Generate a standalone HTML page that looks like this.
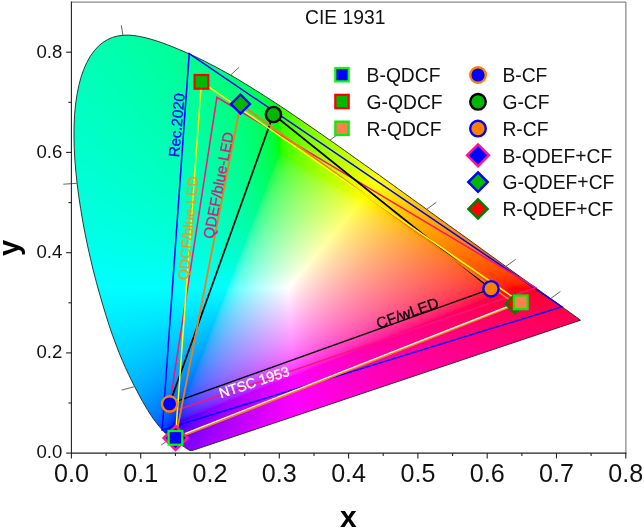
<!DOCTYPE html>
<html><head><meta charset="utf-8"><title>CIE 1931</title>
<style>
html,body{margin:0;padding:0;background:#fff}
#w{position:relative;width:644px;height:529px;overflow:hidden;background:#fff}
#f{position:absolute;left:0;top:0;width:644px;height:529px;clip-path:path("M192.1 450.6 L190.0 450.5 L188.2 449.5 L186.4 448.4 L184.5 447.1 L182.5 445.8 L180.6 444.7 L178.5 443.3 L176.0 441.7 L174.2 440.5 L172.2 439.0 L170.1 437.4 L167.8 435.5 L165.3 433.1 L163.9 431.7 L162.4 430.1 L160.8 428.3 L159.2 426.3 L157.4 424.1 L155.6 421.8 L153.6 419.1 L151.6 416.3 L149.5 413.1 L147.4 409.6 L145.1 405.8 L142.7 401.6 L140.1 397.0 L137.5 392.0 L134.7 386.6 L131.7 380.8 L128.6 374.4 L125.5 367.7 L122.3 360.4 L119.0 352.5 L115.8 344.2 L112.5 335.2 L109.3 325.8 L106.1 315.8 L102.9 305.3 L99.7 294.2 L96.5 282.8 L93.4 270.9 L90.5 258.7 L87.7 246.3 L85.1 233.7 L82.7 221.1 L80.6 208.4 L78.7 195.8 L77.1 183.3 L75.8 171.1 L74.8 159.1 L74.2 147.4 L74.0 136.0 L74.1 125.0 L74.6 114.4 L75.6 104.2 L77.0 94.6 L78.8 85.6 L81.0 77.2 L83.7 69.5 L86.8 62.5 L90.3 56.2 L94.2 50.8 L98.4 46.2 L102.8 42.5 L107.5 39.6 L112.5 37.4 L117.6 36.0 L122.9 35.3 L128.3 35.1 L133.7 35.5 L139.3 36.4 L144.9 37.6 L150.5 39.1 L156.2 40.8 L161.9 42.7 L167.5 44.8 L173.1 47.0 L178.6 49.3 L184.0 51.6 L189.4 54.0 L194.7 56.4 L199.9 58.9 L205.1 61.4 L210.2 64.1 L215.3 66.7 L220.4 69.5 L225.5 72.3 L230.5 75.1 L235.6 78.0 L240.6 81.0 L245.6 84.0 L250.6 87.1 L255.6 90.2 L260.6 93.3 L265.5 96.5 L270.5 99.7 L275.5 102.9 L280.4 106.2 L285.4 109.5 L290.3 112.8 L295.2 116.2 L300.2 119.5 L305.1 122.9 L310.1 126.3 L315.1 129.8 L320.0 133.2 L325.0 136.7 L330.0 140.2 L334.9 143.6 L339.8 147.1 L344.8 150.6 L349.7 154.1 L354.6 157.7 L359.6 161.2 L364.5 164.7 L369.4 168.2 L374.3 171.7 L379.2 175.1 L384.0 178.6 L388.9 182.1 L393.7 185.6 L398.4 189.0 L403.2 192.4 L407.9 195.8 L412.6 199.2 L417.3 202.6 L422.0 205.9 L426.6 209.3 L431.1 212.6 L435.7 215.8 L440.1 219.1 L444.6 222.2 L448.9 225.4 L453.3 228.5 L457.6 231.6 L461.8 234.6 L465.9 237.6 L470.0 240.5 L474.0 243.4 L478.0 246.3 L481.8 249.1 L485.6 251.8 L489.2 254.4 L492.7 257.0 L496.2 259.4 L499.5 261.8 L502.7 264.2 L505.9 266.4 L509.0 268.7 L512.0 270.9 L515.0 273.0 L517.8 275.0 L520.6 277.0 L523.2 278.9 L525.8 280.7 L528.2 282.5 L530.6 284.1 L532.8 285.7 L535.0 287.3 L537.0 288.8 L539.0 290.2 L540.9 291.6 L542.7 292.9 L544.4 294.2 L546.1 295.3 L549.2 297.6 L552.0 299.6 L554.6 301.4 L556.9 303.1 L559.1 304.7 L561.0 306.1 L562.9 307.4 L564.6 308.7 L567.0 310.4 L569.0 311.9 L570.9 313.2 L572.9 314.6 L574.9 316.1 L576.6 317.3 L578.3 318.5 L580.0 319.8 L580.5 320.2Z")}
svg{position:absolute;left:0;top:0;will-change:transform}
text{font-family:"Liberation Sans",Arial,sans-serif}
.s{position:absolute;left:0;top:0;width:644px;height:529px}
</style></head><body>
<div id="w">
<div id="f">
<div class="s" style="background:conic-gradient(from 0deg at 288.1px 288.2px, rgb(76,255,0) 0.00deg, rgb(97,255,0) 2.50deg, rgb(120,255,0) 6.00deg, rgb(146,255,0) 11.00deg, rgb(179,255,0) 19.00deg, rgb(255,255,0) 40.00deg, rgb(255,207,0) 54.00deg, rgb(255,157,0) 69.00deg, rgb(255,127,0) 76.50deg, rgb(255,102,0) 81.50deg, rgb(255,82,0) 84.50deg, rgb(255,65,0) 86.50deg, rgb(255,48,0) 88.00deg, rgb(255,41,0) 88.50deg, rgb(255,31,0) 89.00deg, rgb(255,18,0) 89.50deg, rgb(255,0,6) 90.00deg, rgb(255,0,25) 90.50deg, rgb(255,0,36) 91.00deg, rgb(255,0,50) 92.00deg, rgb(255,0,66) 93.50deg, rgb(255,0,84) 96.00deg, rgb(255,0,102) 99.50deg, rgb(255,0,122) 104.50deg, rgb(255,0,142) 111.50deg, rgb(255,0,164) 122.00deg, rgb(255,0,194) 140.00deg, rgb(255,0,235) 166.00deg, rgb(255,0,255) 176.50deg, rgb(224,0,255) 189.50deg, rgb(198,0,255) 198.00deg, rgb(176,0,255) 204.00deg, rgb(155,0,255) 208.50deg, rgb(133,0,255) 212.00deg, rgb(113,0,255) 214.50deg, rgb(92,0,255) 216.50deg, rgb(78,0,255) 217.50deg, rgb(60,0,255) 218.50deg, rgb(48,0,255) 219.00deg, rgb(31,0,255) 219.50deg, rgb(0,10,255) 220.00deg, rgb(0,38,255) 220.50deg, rgb(0,53,255) 221.00deg, rgb(0,64,255) 221.50deg, rgb(0,81,255) 222.50deg, rgb(0,99,255) 224.00deg, rgb(0,118,255) 226.00deg, rgb(0,139,255) 229.00deg, rgb(0,160,255) 233.00deg, rgb(0,182,255) 238.50deg, rgb(0,205,255) 246.00deg, rgb(0,230,255) 256.50deg, rgb(0,255,255) 270.00deg, rgb(0,255,227) 288.00deg, rgb(0,255,186) 317.00deg, rgb(0,255,163) 329.50deg, rgb(0,255,143) 338.00deg, rgb(0,255,123) 344.00deg, rgb(0,255,105) 348.00deg, rgb(0,255,86) 351.00deg, rgb(0,255,69) 353.00deg, rgb(0,255,58) 354.00deg, rgb(0,255,43) 355.00deg, rgb(0,255,33) 355.50deg, rgb(0,255,17) 356.00deg, rgb(13,255,0) 356.50deg, rgb(31,255,0) 357.00deg, rgb(42,255,0) 357.50deg, rgb(58,255,0) 358.50deg, rgb(76,255,0) 360.00deg)"></div>
<div class="s" style="clip-path:polygon(287.3px 288.2px, 293.3px 376.5px, 515.7px 287.7px, 362.0px 199.1px);background:conic-gradient(from 116.87deg at 279.3px 152.4px, rgb(255,0,0) 0.00deg, rgb(255,0,0) 3.01deg, rgb(255,0,14) 3.51deg, rgb(255,0,27) 4.26deg, rgb(255,0,41) 5.52deg, rgb(255,0,58) 7.77deg, rgb(255,0,79) 11.53deg, rgb(255,0,104) 17.55deg, rgb(255,0,142) 29.08deg, rgb(255,0,192) 44.63deg, rgb(255,0,222) 52.65deg, rgb(255,0,250) 58.42deg, rgb(255,0,255) 59.42deg, rgb(255,0,255) 62.43deg, rgb(255,0,255) 211.21deg, rgb(255,0,0) 211.21deg, rgb(255,0,0) 360.00deg),conic-gradient(from 36.91deg at 175.4px 423.0px, rgb(0,255,0) 0.00deg, rgb(0,255,0) 3.01deg, rgb(0,221,0) 7.02deg, rgb(0,179,0) 12.79deg, rgb(0,110,0) 23.08deg, rgb(0,82,0) 26.59deg, rgb(0,61,0) 28.60deg, rgb(0,44,0) 29.85deg, rgb(0,29,0) 30.60deg, rgb(0,23,0) 30.85deg, rgb(0,14,0) 31.10deg, rgb(0,1,0) 31.35deg, rgb(0,0,0) 33.86deg, rgb(0,0,0) 34.36deg, rgb(0,0,0) 197.18deg, rgb(0,255,0) 197.18deg, rgb(0,255,0) 360.00deg);background-blend-mode:screen"></div>
<div class="s" style="clip-path:polygon(288.1px 289.0px, 226.5px 288.9px, 279.2px 151.6px, 362.7px 199.6px);background:conic-gradient(from 266.87deg at 514.9px 287.7px, rgb(0,255,255) 0.00deg, rgb(0,255,255) 3.02deg, rgb(0,255,219) 7.80deg, rgb(0,255,170) 15.35deg, rgb(0,255,115) 23.91deg, rgb(0,255,87) 27.69deg, rgb(0,255,65) 29.95deg, rgb(0,255,48) 31.21deg, rgb(0,255,35) 31.96deg, rgb(0,255,23) 32.47deg, rgb(0,255,14) 32.72deg, rgb(0,255,1) 32.97deg, rgb(0,255,0) 33.73deg, rgb(0,255,0) 35.99deg, rgb(0,255,0) 198.00deg, rgb(0,255,255) 198.00deg, rgb(0,255,255) 360.00deg),conic-gradient(from 18.01deg at 175.4px 423.0px, rgb(0,0,0) 0.00deg, rgb(0,0,0) 2.77deg, rgb(2,0,0) 3.02deg, rgb(25,0,0) 3.27deg, rgb(37,0,0) 3.52deg, rgb(54,0,0) 4.02deg, rgb(71,0,0) 4.78deg, rgb(94,0,0) 6.04deg, rgb(118,0,0) 7.80deg, rgb(149,0,0) 10.56deg, rgb(198,0,0) 15.59deg, rgb(255,0,0) 21.88deg, rgb(255,0,0) 24.90deg, rgb(255,0,0) 192.45deg, rgb(0,0,0) 192.45deg, rgb(0,0,0) 360.00deg);background-blend-mode:screen"></div>
<div class="s" style="clip-path:polygon(288.6px 287.6px, 226.8px 287.6px, 174.8px 423.6px, 294.4px 376.3px);background:conic-gradient(from 245.28deg at 514.9px 287.7px, rgb(0,0,255) 0.00deg, rgb(0,0,255) 2.76deg, rgb(0,1,255) 3.01deg, rgb(0,22,255) 3.26deg, rgb(0,34,255) 3.51deg, rgb(0,49,255) 4.01deg, rgb(0,66,255) 4.77deg, rgb(0,87,255) 6.02deg, rgb(0,113,255) 8.03deg, rgb(0,143,255) 11.04deg, rgb(0,188,255) 16.31deg, rgb(0,255,255) 24.59deg, rgb(0,255,255) 27.60deg, rgb(0,255,255) 193.80deg, rgb(0,0,255) 193.80deg, rgb(0,0,255) 360.00deg),conic-gradient(from 173.29deg at 279.3px 152.4px, rgb(255,0,0) 0.00deg, rgb(255,0,0) 3.02deg, rgb(205,0,0) 11.58deg, rgb(169,0,0) 16.87deg, rgb(141,0,0) 20.40deg, rgb(115,0,0) 22.92deg, rgb(92,0,0) 24.68deg, rgb(71,0,0) 25.94deg, rgb(54,0,0) 26.69deg, rgb(37,0,0) 27.20deg, rgb(25,0,0) 27.45deg, rgb(2,0,0) 27.70deg, rgb(0,0,0) 27.95deg, rgb(0,0,0) 30.72deg, rgb(0,0,0) 195.36deg, rgb(255,0,0) 195.36deg, rgb(255,0,0) 360.00deg);background-blend-mode:screen"></div>
</div>
<svg width="644" height="529" viewBox="0 0 644 529">
<path d="M192.1 450.6 L190.0 450.5 L188.2 449.5 L186.4 448.4 L184.5 447.1 L182.5 445.8 L180.6 444.7 L178.5 443.3 L176.0 441.7 L174.2 440.5 L172.2 439.0 L170.1 437.4 L167.8 435.5 L165.3 433.1 L163.9 431.7 L162.4 430.1 L160.8 428.3 L159.2 426.3 L157.4 424.1 L155.6 421.8 L153.6 419.1 L151.6 416.3 L149.5 413.1 L147.4 409.6 L145.1 405.8 L142.7 401.6 L140.1 397.0 L137.5 392.0 L134.7 386.6 L131.7 380.8 L128.6 374.4 L125.5 367.7 L122.3 360.4 L119.0 352.5 L115.8 344.2 L112.5 335.2 L109.3 325.8 L106.1 315.8 L102.9 305.3 L99.7 294.2 L96.5 282.8 L93.4 270.9 L90.5 258.7 L87.7 246.3 L85.1 233.7 L82.7 221.1 L80.6 208.4 L78.7 195.8 L77.1 183.3 L75.8 171.1 L74.8 159.1 L74.2 147.4 L74.0 136.0 L74.1 125.0 L74.6 114.4 L75.6 104.2 L77.0 94.6 L78.8 85.6 L81.0 77.2 L83.7 69.5 L86.8 62.5 L90.3 56.2 L94.2 50.8 L98.4 46.2 L102.8 42.5 L107.5 39.6 L112.5 37.4 L117.6 36.0 L122.9 35.3 L128.3 35.1 L133.7 35.5 L139.3 36.4 L144.9 37.6 L150.5 39.1 L156.2 40.8 L161.9 42.7 L167.5 44.8 L173.1 47.0 L178.6 49.3 L184.0 51.6 L189.4 54.0 L194.7 56.4 L199.9 58.9 L205.1 61.4 L210.2 64.1 L215.3 66.7 L220.4 69.5 L225.5 72.3 L230.5 75.1 L235.6 78.0 L240.6 81.0 L245.6 84.0 L250.6 87.1 L255.6 90.2 L260.6 93.3 L265.5 96.5 L270.5 99.7 L275.5 102.9 L280.4 106.2 L285.4 109.5 L290.3 112.8 L295.2 116.2 L300.2 119.5 L305.1 122.9 L310.1 126.3 L315.1 129.8 L320.0 133.2 L325.0 136.7 L330.0 140.2 L334.9 143.6 L339.8 147.1 L344.8 150.6 L349.7 154.1 L354.6 157.7 L359.6 161.2 L364.5 164.7 L369.4 168.2 L374.3 171.7 L379.2 175.1 L384.0 178.6 L388.9 182.1 L393.7 185.6 L398.4 189.0 L403.2 192.4 L407.9 195.8 L412.6 199.2 L417.3 202.6 L422.0 205.9 L426.6 209.3 L431.1 212.6 L435.7 215.8 L440.1 219.1 L444.6 222.2 L448.9 225.4 L453.3 228.5 L457.6 231.6 L461.8 234.6 L465.9 237.6 L470.0 240.5 L474.0 243.4 L478.0 246.3 L481.8 249.1 L485.6 251.8 L489.2 254.4 L492.7 257.0 L496.2 259.4 L499.5 261.8 L502.7 264.2 L505.9 266.4 L509.0 268.7 L512.0 270.9 L515.0 273.0 L517.8 275.0 L520.6 277.0 L523.2 278.9 L525.8 280.7 L528.2 282.5 L530.6 284.1 L532.8 285.7 L535.0 287.3 L537.0 288.8 L539.0 290.2 L540.9 291.6 L542.7 292.9 L544.4 294.2 L546.1 295.3 L549.2 297.6 L552.0 299.6 L554.6 301.4 L556.9 303.1 L559.1 304.7 L561.0 306.1 L562.9 307.4 L564.6 308.7 L567.0 310.4 L569.0 311.9 L570.9 313.2 L572.9 314.6 L574.9 316.1 L576.6 317.3 L578.3 318.5 L580.0 319.8 L580.5 320.2Z" fill="none" stroke="#222" stroke-width="0.9"/>
<line x1="171.2" y1="438.2" x2="161.1" y2="445.1" stroke="#555" stroke-width="0.9"/>
<line x1="134.7" y1="386.6" x2="121.7" y2="390.1" stroke="#555" stroke-width="0.9"/>
<line x1="77.1" y1="183.3" x2="63.3" y2="184.2" stroke="#555" stroke-width="0.9"/>
<line x1="122.9" y1="35.3" x2="121.3" y2="25.3" stroke="#555" stroke-width="0.9"/>
<line x1="230.5" y1="75.1" x2="239.1" y2="67.3" stroke="#555" stroke-width="0.9"/>
<line x1="330.0" y1="140.2" x2="339.6" y2="133.0" stroke="#555" stroke-width="0.9"/>
<line x1="426.6" y1="209.3" x2="436.4" y2="202.2" stroke="#555" stroke-width="0.9"/>
<line x1="505.9" y1="266.4" x2="515.7" y2="259.3" stroke="#555" stroke-width="0.9"/>
<line x1="550.6" y1="298.6" x2="560.4" y2="291.5" stroke="#555" stroke-width="0.9"/>
<path d="M562.0 306.8 L189.2 53.7 L162.2 430.0Z" fill="none" stroke="#0000ff" stroke-width="1.5" stroke-linejoin="miter"/>
<path d="M535.7 287.7 L216.9 97.3 L168.4 413.0Z" fill="none" stroke="#f81478" stroke-width="1.5" stroke-linejoin="miter"/>
<path d="M491.0 288.8 L169.6 403.9" fill="none" stroke="#000" stroke-width="1.4" stroke-linejoin="miter"/>
<path d="M169.6 403.9 L273.4 114.5 L491.0 288.8" fill="none" stroke="#000" stroke-width="1.7" stroke-linejoin="miter"/>
<path d="M515.0 303.9 L240.5 104.0 L175.6 437.9Z" fill="none" stroke="#f27c18" stroke-width="1.8" stroke-linejoin="miter"/>
<path d="M175.6 438.3 L515.0 304.4" fill="none" stroke="#f08020" stroke-width="2.6" stroke-linejoin="miter"/>
<path d="M175.4 437.9 L201.4 81.8 L520.7 302.4" fill="none" stroke="#ffff00" stroke-width="1.5" stroke-linejoin="miter"/>
<path d="M175.4 437.3 L520.7 301.6" fill="none" stroke="#fff8d0" stroke-width="1.3" stroke-linejoin="miter"/>
<path d="M175.6 426.0 L187.5 437.9 L175.6 449.8 L163.7 437.9Z" fill="#0000ff" stroke="#ff1493" stroke-width="2.6"/>
<path d="M240.5 94.5 L250.0 104.0 L240.5 113.5 L231.0 104.0Z" fill="#00b800" stroke="#0000ff" stroke-width="2.4"/>
<path d="M515.0 294.4 L524.5 303.9 L515.0 313.4 L505.5 303.9Z" fill="#ff0000" stroke="#008000" stroke-width="2.4"/>
<circle cx="169.6" cy="403.9" r="7.65" fill="#0000ff" stroke="#ff8000" stroke-width="2.4"/>
<circle cx="273.4" cy="114.5" r="7.65" fill="#00b800" stroke="#000" stroke-width="2.4"/>
<circle cx="491.0" cy="288.8" r="7.65" fill="#ff8000" stroke="#0000ff" stroke-width="2.4"/>
<rect x="168.6" y="431.0" width="13.7" height="13.7" fill="#0000ff" stroke="#00ff00" stroke-width="2.2"/>
<rect x="194.6" y="75.0" width="13.7" height="13.7" fill="#00b800" stroke="#ff0000" stroke-width="2.2"/>
<rect x="513.9" y="295.5" width="13.7" height="13.7" fill="#ff7f50" stroke="#00f000" stroke-width="2.2"/>
<path d="M71.4 2.1 H625.9 V453.1" fill="none" stroke="#6c6c6c" stroke-width="1"/>
<path d="M71.4 1.6 V453.1 H626.4" fill="none" stroke="#222" stroke-width="1.1"/>
<line x1="71.4" y1="453.1" x2="71.4" y2="458.40000000000003" stroke="#222" stroke-width="1.1"/>
<line x1="106.1" y1="453.1" x2="106.1" y2="456.1" stroke="#222" stroke-width="1.1"/>
<line x1="140.7" y1="453.1" x2="140.7" y2="458.40000000000003" stroke="#222" stroke-width="1.1"/>
<line x1="175.4" y1="453.1" x2="175.4" y2="456.1" stroke="#222" stroke-width="1.1"/>
<line x1="210.0" y1="453.1" x2="210.0" y2="458.40000000000003" stroke="#222" stroke-width="1.1"/>
<line x1="244.7" y1="453.1" x2="244.7" y2="456.1" stroke="#222" stroke-width="1.1"/>
<line x1="279.3" y1="453.1" x2="279.3" y2="458.40000000000003" stroke="#222" stroke-width="1.1"/>
<line x1="314.0" y1="453.1" x2="314.0" y2="456.1" stroke="#222" stroke-width="1.1"/>
<line x1="348.6" y1="453.1" x2="348.6" y2="458.40000000000003" stroke="#222" stroke-width="1.1"/>
<line x1="383.2" y1="453.1" x2="383.2" y2="456.1" stroke="#222" stroke-width="1.1"/>
<line x1="417.9" y1="453.1" x2="417.9" y2="458.40000000000003" stroke="#222" stroke-width="1.1"/>
<line x1="452.6" y1="453.1" x2="452.6" y2="456.1" stroke="#222" stroke-width="1.1"/>
<line x1="487.2" y1="453.1" x2="487.2" y2="458.40000000000003" stroke="#222" stroke-width="1.1"/>
<line x1="521.9" y1="453.1" x2="521.9" y2="456.1" stroke="#222" stroke-width="1.1"/>
<line x1="556.5" y1="453.1" x2="556.5" y2="458.40000000000003" stroke="#222" stroke-width="1.1"/>
<line x1="591.1" y1="453.1" x2="591.1" y2="456.1" stroke="#222" stroke-width="1.1"/>
<line x1="625.8" y1="453.1" x2="625.8" y2="458.40000000000003" stroke="#222" stroke-width="1.1"/>
<line x1="71.4" y1="453.1" x2="66.10000000000001" y2="453.1" stroke="#222" stroke-width="1.1"/>
<line x1="71.4" y1="403.0" x2="68.4" y2="403.0" stroke="#222" stroke-width="1.1"/>
<line x1="71.4" y1="352.9" x2="66.10000000000001" y2="352.9" stroke="#222" stroke-width="1.1"/>
<line x1="71.4" y1="302.8" x2="68.4" y2="302.8" stroke="#222" stroke-width="1.1"/>
<line x1="71.4" y1="252.7" x2="66.10000000000001" y2="252.7" stroke="#222" stroke-width="1.1"/>
<line x1="71.4" y1="202.6" x2="68.4" y2="202.6" stroke="#222" stroke-width="1.1"/>
<line x1="71.4" y1="152.4" x2="66.10000000000001" y2="152.4" stroke="#222" stroke-width="1.1"/>
<line x1="71.4" y1="102.3" x2="68.4" y2="102.3" stroke="#222" stroke-width="1.1"/>
<line x1="71.4" y1="52.2" x2="66.10000000000001" y2="52.2" stroke="#222" stroke-width="1.1"/>
<text x="71.4" y="481.8" font-size="25.1" text-anchor="middle"  fill="#111">0.0</text>
<text x="140.7" y="481.8" font-size="25.1" text-anchor="middle"  fill="#111">0.1</text>
<text x="210.0" y="481.8" font-size="25.1" text-anchor="middle"  fill="#111">0.2</text>
<text x="279.3" y="481.8" font-size="25.1" text-anchor="middle"  fill="#111">0.3</text>
<text x="348.6" y="481.8" font-size="25.1" text-anchor="middle"  fill="#111">0.4</text>
<text x="417.9" y="481.8" font-size="25.1" text-anchor="middle"  fill="#111">0.5</text>
<text x="487.2" y="481.8" font-size="25.1" text-anchor="middle"  fill="#111">0.6</text>
<text x="556.5" y="481.8" font-size="25.1" text-anchor="middle"  fill="#111">0.7</text>
<text x="625.8" y="481.8" font-size="25.1" text-anchor="middle"  fill="#111">0.8</text>
<text x="62.4" y="458.4" font-size="18.6" text-anchor="end"  fill="#111">0.0</text>
<text x="62.4" y="358.2" font-size="18.6" text-anchor="end"  fill="#111">0.2</text>
<text x="62.4" y="258.0" font-size="18.6" text-anchor="end"  fill="#111">0.4</text>
<text x="62.4" y="157.7" font-size="18.6" text-anchor="end"  fill="#111">0.6</text>
<text x="62.4" y="57.5" font-size="18.6" text-anchor="end"  fill="#111">0.8</text>
<text x="345.2" y="24.0" font-size="19.3" text-anchor="middle"  fill="#111">CIE 1931</text>
<text x="348.4" y="527" font-size="30" font-weight="bold" text-anchor="middle"  fill="#000">x</text>
<text transform="translate(18.6 248) rotate(-90)" font-size="29" font-weight="bold" text-anchor="middle"  fill="#000">y</text>
<rect x="335.3" y="68.0" width="13.4" height="13.4" fill="#0000ff" stroke="#00ff00" stroke-width="2.2"/>
<rect x="335.3" y="94.8" width="13.4" height="13.4" fill="#00b800" stroke="#ff0000" stroke-width="2.2"/>
<rect x="335.3" y="121.6" width="13.4" height="13.4" fill="#ff7f50" stroke="#00f000" stroke-width="2.2"/>
<circle cx="478.0" cy="75.0" r="7.80" fill="#0000ff" stroke="#ff8000" stroke-width="2.4"/>
<circle cx="478.0" cy="101.8" r="7.80" fill="#00b800" stroke="#000" stroke-width="2.4"/>
<circle cx="478.0" cy="128.6" r="7.80" fill="#ff8000" stroke="#0000ff" stroke-width="2.4"/>
<path d="M478.0 144.4 L488.9 155.3 L478.0 166.2 L467.1 155.3Z" fill="#0000ff" stroke="#ff1493" stroke-width="2.5"/>
<path d="M478.0 172.4 L487.7 182.1 L478.0 191.8 L468.3 182.1Z" fill="#00b800" stroke="#0000ff" stroke-width="2.5"/>
<path d="M478.0 199.3 L487.6 208.9 L478.0 218.5 L468.4 208.9Z" fill="#ff0000" stroke="#008000" stroke-width="2.5"/>
<text x="366.6" y="82.2" font-size="19.3"  fill="#111">B-QDCF</text>
<text x="366.6" y="109.0" font-size="19.3"  fill="#111">G-QDCF</text>
<text x="366.6" y="135.8" font-size="19.3"  fill="#111">R-QDCF</text>
<text x="502.4" y="82.2" font-size="19.3"  fill="#111">B-CF</text>
<text x="502.4" y="109.0" font-size="19.3"  fill="#111">G-CF</text>
<text x="502.4" y="135.8" font-size="19.3"  fill="#111">R-CF</text>
<text x="502.4" y="162.5" font-size="19.3"  fill="#111">B-QDEF+CF</text>
<text x="502.4" y="189.3" font-size="19.3"  fill="#111">G-QDEF+CF</text>
<text x="502.4" y="216.1" font-size="19.3"  fill="#111">R-QDEF+CF</text>
<text transform="translate(178.9 157.6) rotate(-84.7)" font-size="15.0"  fill="#0000ff" stroke="#0000ff" stroke-width="0.3">Rec.2020</text>
<text transform="translate(187.8 280.6) rotate(-84.3)" font-size="14.35"  fill="#e89820" stroke="#e89820" stroke-width="0.3">QDCF/blue-LED</text>
<text transform="translate(213.2 239.4) rotate(-79)" font-size="15.0"  fill="#d8187c" stroke="#d8187c" stroke-width="0.3">QDEF/blue-LED</text>
<text transform="translate(378.6 329) rotate(-19.8)" font-size="15.2"  fill="#000" stroke="#000" stroke-width="0.3">CF/wLED</text>
<text transform="translate(221 398.3) rotate(-18.4)" font-size="14"  fill="#fff" stroke="#fff" stroke-width="0.3">NTSC 1953</text>
</svg>
</div>
</body></html>
